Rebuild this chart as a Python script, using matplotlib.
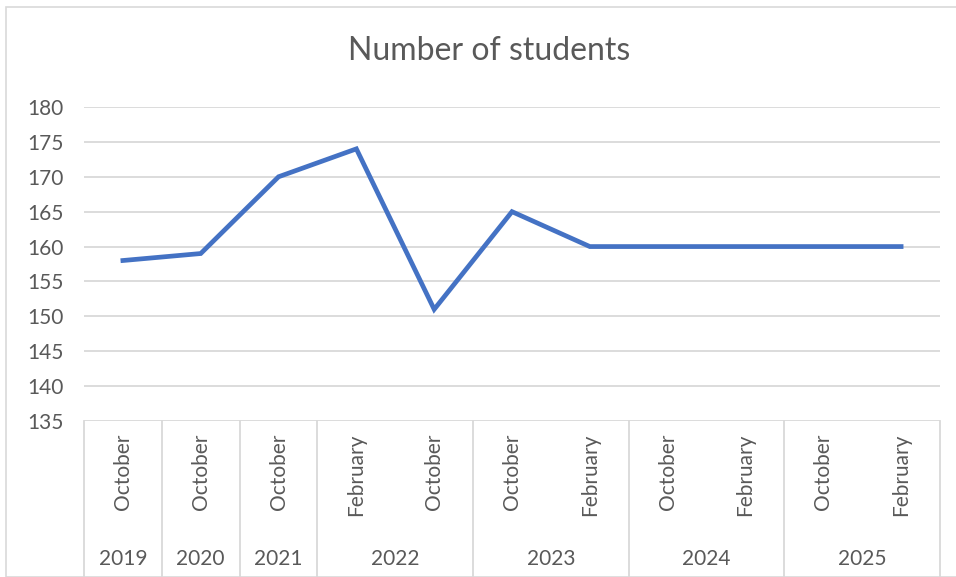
import matplotlib
matplotlib.use("Agg")
import matplotlib.pyplot as plt
import matplotlib.transforms as mtransforms
from matplotlib.patches import Rectangle

plt.rcParams['font.family'] = ['Lato', 'DejaVu Sans']

# data
months = ["October", "October", "October", "February", "October",
          "October", "February", "October", "February", "October", "February"]
years = ["2019", "2020", "2021", "2022", "2022",
         "2023", "2023", "2024", "2024", "2025", "2025"]
students = [158, 159, 170, 174, 151, 165, 160, 160, 160, 160, 160]

W, H = 956, 577
fig = plt.figure(figsize=(W / 100, H / 100), dpi=100)

# chart border (Excel chart area)
fig.patches.append(Rectangle((6 / W, 0), 1, 1 - 7 / H, transform=fig.transFigure,
                             fill=False, edgecolor="#D9D9D9", linewidth=1.2))

left, right, top, bottom = 84, 940, 107, 421
ax = fig.add_axes([left / W, 1 - bottom / H, (right - left) / W, (bottom - top) / H])

x = list(range(len(students)))
ax.plot(x, students, color="#4472C4", linewidth=3.4, solid_joinstyle="miter")

ax.set_xlim(-0.5, len(students) - 0.5)
ax.set_ylim(135, 180)
ax.set_yticks(range(135, 181, 5))
ax.yaxis.grid(True, color="#D9D9D9", linewidth=1.3)
ax.set_axisbelow(True)
for s in ax.spines.values():
    s.set_visible(False)
ax.tick_params(axis="y", length=0, pad=15, labelsize=15, labelcolor="#595959")
ax.set_xticks([])

fig.text(489 / W, 1 - 51 / H, "Number of students", fontsize=23, color="#595959",
         ha="center", va="center")

# multi-level category axis
trans = mtransforms.blended_transform_factory(ax.transData, ax.transAxes)
ph = bottom - top
ybot = -(H - bottom) / ph
label_y = -(434 - bottom) / ph
year_y = -(559 - bottom) / ph

groups = []
for i, yr in enumerate(years):
    if groups and groups[-1][0] == yr:
        groups[-1][2] = i
    else:
        groups.append([yr, i, i])

bounds = [-0.5] + [g[2] + 0.5 for g in groups]
for b in bounds:
    ax.plot([b, b], [0, ybot], color="#D9D9D9", linewidth=1.3,
            transform=trans, clip_on=False)

for i, m in enumerate(months):
    ax.text(i, label_y, m, rotation=90, ha="center", va="top",
            fontsize=15, color="#595959", transform=trans)

for yr, a, b in groups:
    ax.text((a + b) / 2, year_y, yr, ha="center", va="center",
            fontsize=15, color="#595959", transform=trans)

fig.savefig("out.png", dpi=100)
